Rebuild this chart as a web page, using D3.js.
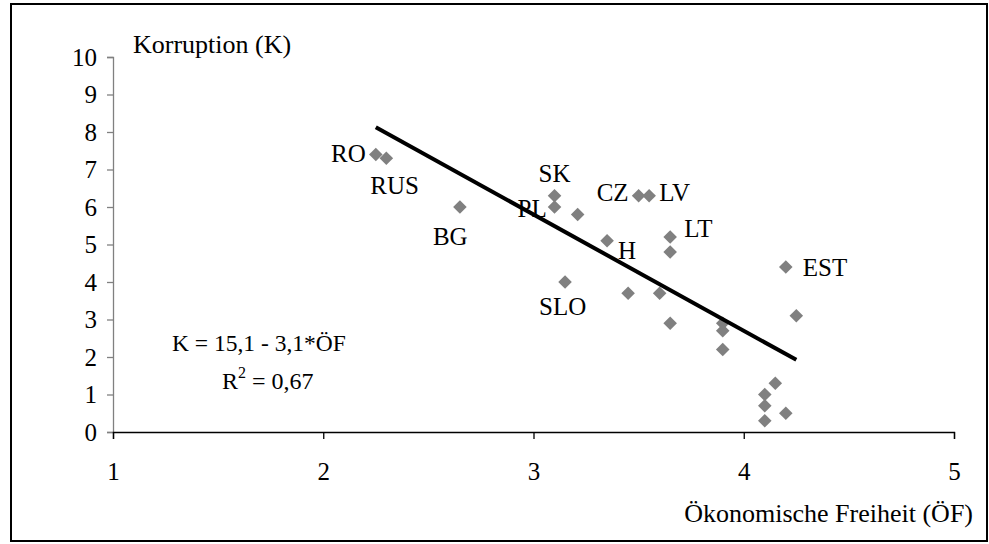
<!DOCTYPE html>
<html>
<head>
<meta charset="utf-8">
<script src="https://cdn.jsdelivr.net/npm/d3@7"></script>
<style>
  body { margin: 0; background: #fff; }
  svg text { font-family: "Liberation Serif", "Times New Roman", Times, serif; fill: #000; }
</style>
</head>
<body>
<svg id="chart" width="989" height="544"></svg>
<script>
(function () {
    'use strict';

    // Ökonomische Freiheit (x) und Korruption (y)
    const countries = ["RO", "RUS", "BG", "SK", "PL", "", "CZ", "LV", "LT", "", "H", "SLO", "", "", "", "", "", "", "EST", "", "", "", "", "", ""];
    const freedom   = [2.25, 2.30, 2.65, 3.10, 3.10, 3.21, 3.50, 3.55, 3.65, 3.65, 3.35, 3.15, 3.45, 3.60, 3.65, 3.90, 3.90, 3.90, 4.20, 4.25, 4.15, 4.10, 4.10, 4.10, 4.20];
    const corruption = [7.4, 7.3, 6.0, 6.3, 6.0, 5.8, 6.3, 6.3, 5.2, 4.8, 5.1, 4.0, 3.7, 3.7, 2.9, 2.9, 2.7, 2.2, 4.4, 3.1, 1.3, 1.0, 0.7, 0.3, 0.5];
    const xTicks = [1, 2, 3, 4, 5];
    const yTicks = [0, 1, 2, 3, 4, 5, 6, 7, 8, 9, 10];
    const fitIntercept = 15.1;
    const fitSlope = -3.1;
    const fitRange = [2.25, 4.25];

    // label offsets relative to each point (dx, dy, anchor)
    const labelPos = {
        RO:  [-10, 7, "end"],
        RUS: [-16, 36, "start"],
        BG:  [-27, 38, "start"],
        SK:  [-16, -14, "start"],
        PL:  [-37, 10, "start"],
        CZ:  [-42, 5, "start"],
        LV:  [10, 5, "start"],
        LT:  [14, 0, "start"],
        H:   [11, 18, "start"],
        SLO: [-26, 33, "start"],
        EST: [17, 9, "start"]
    };

    const svg = d3.select("#chart");
    const serif = "'Liberation Serif', 'Times New Roman', Times, serif";
    const fontSize = "25px";
    const titleSize = "26px";

    svg.append("rect")
        .attr("x", 11).attr("y", 4)
        .attr("width", 976).attr("height", 537)
        .attr("fill", "none").attr("stroke", "#000").attr("stroke-width", 2);

    const x = d3.scaleLinear().domain([1, 5]).range([113, 954]);
    const y = d3.scaleLinear().domain([0, 10]).range([432, 57]);

    const yAxis = svg.append("g")
        .attr("transform", "translate(113,0)")
        .call(d3.axisLeft(y).tickValues(yTicks).tickFormat(d3.format("d")).tickSize(6).tickPadding(10))
        .attr("font-family", serif).attr("font-size", fontSize);
    yAxis.select(".domain").attr("stroke", "#808080").attr("stroke-width", 1.3);
    yAxis.selectAll(".tick line").attr("stroke", "#808080").attr("stroke-width", 1.3);

    const xAxis = svg.append("g")
        .attr("transform", "translate(0,432)")
        .call(d3.axisBottom(x).tickValues(xTicks).tickFormat(d3.format("d")).tickSize(7).tickSizeOuter(7).tickPadding(23))
        .attr("font-family", serif).attr("font-size", fontSize);
    xAxis.select(".domain").attr("stroke", "#000").attr("stroke-width", 1.3);
    xAxis.selectAll(".tick line").attr("stroke", "#000").attr("stroke-width", 1.3);

    svg.append("text")
        .attr("x", 133).attr("y", 53)
        .attr("font-size", titleSize)
        .text("Korruption (K)");

    svg.append("text")
        .attr("x", 973).attr("y", 522)
        .attr("text-anchor", "end")
        .attr("font-size", titleSize)
        .text("Ökonomische Freiheit (ÖF)");

    const points = freedom.map((f, i) => ({ name: countries[i], x: f, y: corruption[i] }));

    const diamond = d3.symbol().type(d3.symbolSquare).size(92);
    svg.append("g")
        .selectAll("path")
        .data(points)
        .join("path")
        .attr("d", diamond)
        .attr("fill", "#808080")
        .attr("transform", d => `translate(${x(d.x)},${y(d.y)}) rotate(45)`);

    const line = d3.line().x(d => x(d)).y(d => y(fitIntercept + fitSlope * d));
    svg.append("path")
        .attr("d", line(fitRange))
        .attr("fill", "none")
        .attr("stroke", "#000")
        .attr("stroke-width", 4);

    svg.append("g")
        .selectAll("text")
        .data(points.filter(d => d.name))
        .join("text")
        .attr("x", d => x(d.x) + labelPos[d.name][0])
        .attr("y", d => y(d.y) + labelPos[d.name][1])
        .attr("text-anchor", d => labelPos[d.name][2])
        .attr("font-size", fontSize)
        .text(d => d.name);

    svg.append("text")
        .attr("x", 172).attr("y", 351)
        .attr("font-size", "23.5px")
        .text("K = 15,1 - 3,1*ÖF");

    const r2 = svg.append("text")
        .attr("x", 222).attr("y", 389)
        .attr("font-size", "24px");
    r2.append("tspan").text("R");
    r2.append("tspan").attr("dy", -11).attr("font-size", "16px").text("2");
    r2.append("tspan").attr("dy", 11).text(" = 0,67");
}());
</script>
</body>
</html>
